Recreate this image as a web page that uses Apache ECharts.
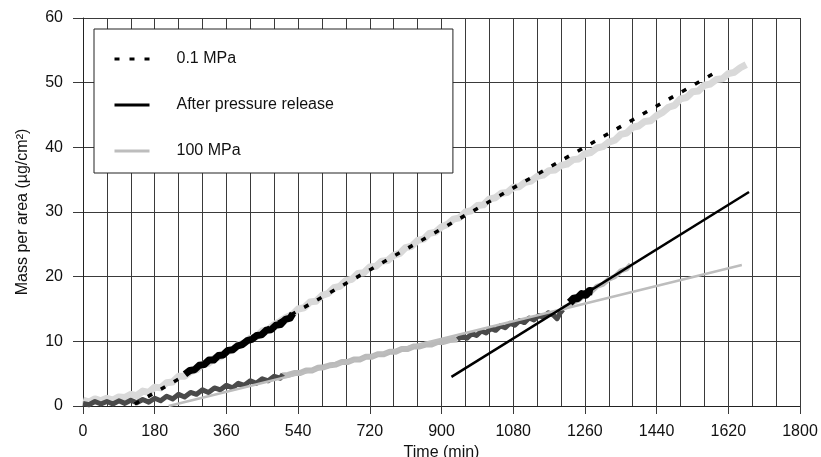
<!DOCTYPE html>
<html>
<head>
<meta charset="utf-8">
<script src="https://cdn.jsdelivr.net/npm/echarts@6/dist/echarts.min.js"></script>
<style>
  html, body { margin: 0; padding: 0; background: #fff; }
  #chart { width: 821px; height: 457px; }
</style>
</head>
<body>
<div id="chart"></div>
<script>
// tick labels
const timeTicks = [0, 180, 360, 540, 720, 900, 1080, 1260, 1440, 1620, 1800];
const massTicks = [0, 10, 20, 30, 40, 50, 60];

// 0.1 MPa measured trace (light grey band)
const trace01 = [
  [0, 0.9], [15, 0.6], [30, 1.1], [45, 0.8], [60, 1.2], [75, 0.9], [90, 1.4], [105, 1.3],
  [120, 1.8], [135, 1.6], [150, 2.3], [165, 2.1], [180, 2.9], [195, 2.8], [210, 3.6], [225, 3.7],
  [240, 4.6], [255, 4.6], [270, 5.3], [285, 5.6], [300, 6.4], [315, 6.6], [330, 7.4], [345, 7.6],
  [360, 8.4], [375, 8.6], [390, 9.5], [405, 9.7], [420, 10.5], [435, 10.7], [450, 11.6], [465, 11.8],
  [480, 12.6], [495, 13.1], [510, 13.7], [525, 14.1], [540, 15.0], [555, 15.2], [570, 16.1], [585, 16.2],
  [600, 17.1], [615, 17.4], [630, 18.3], [645, 18.5], [660, 19.4], [675, 19.6], [690, 20.5], [705, 20.6],
  [720, 21.5], [735, 21.6], [750, 22.4], [765, 22.5], [780, 23.3], [795, 23.6], [810, 24.5], [825, 24.7],
  [840, 25.6], [855, 25.8], [870, 26.7], [885, 26.9], [900, 27.7], [915, 28.1], [930, 28.9], [945, 29.1],
  [960, 30.0], [975, 30.2], [990, 31.0], [1005, 31.1], [1020, 32.0], [1035, 32.2], [1050, 32.9], [1065, 33.0],
  [1080, 33.8], [1095, 33.9], [1110, 34.6], [1125, 34.8], [1140, 35.5], [1155, 35.7], [1170, 36.4], [1185, 36.5],
  [1200, 37.2], [1215, 37.4], [1230, 38.1], [1245, 38.2], [1260, 39.0], [1275, 39.2], [1290, 39.9], [1305, 40.1],
  [1320, 40.8], [1335, 41.1], [1350, 42.0], [1365, 42.2], [1380, 43.1], [1395, 43.3], [1410, 44.0], [1425, 44.1],
  [1440, 44.9], [1455, 45.4], [1470, 46.2], [1485, 46.5], [1500, 47.5], [1515, 47.7], [1530, 48.6], [1545, 48.7],
  [1560, 49.6], [1575, 49.8], [1590, 50.5], [1605, 50.6], [1620, 51.4], [1635, 51.6], [1650, 52.3], [1665, 52.8]
];
// 0.1 MPa early trace (black)
const trace01Early = [
  [256, 4.9], [268, 5.5], [280, 5.6], [292, 6.3], [304, 6.4], [316, 7.1], [328, 7.1], [340, 7.8],
  [352, 7.9], [364, 8.6], [376, 8.7], [388, 9.3], [400, 9.5], [412, 10.1], [424, 10.3], [436, 10.9],
  [448, 11.0], [460, 11.7], [472, 11.8], [484, 12.5], [496, 12.6], [508, 13.4], [520, 13.6], [527, 14.3]
];
// 100 MPa traces
const trace100A = [
  [0, 0.4], [15, 0.2], [30, 0.7], [45, 0.3], [60, 0.7], [75, 0.3], [90, 0.8], [105, 0.4],
  [120, 0.9], [135, 0.5], [150, 1.0], [165, 0.6], [180, 1.2], [195, 0.8], [210, 1.5], [225, 1.1],
  [240, 1.8], [255, 1.4], [270, 2.1], [285, 1.8], [300, 2.5], [315, 2.1], [330, 2.8], [345, 2.5],
  [360, 3.2], [375, 2.8], [390, 3.5], [405, 3.2], [420, 3.9], [435, 3.5], [450, 4.2], [465, 3.9],
  [480, 4.6], [495, 4.3], [502, 4.9]
];
const trace100B = [
  [500, 4.7], [515, 4.8], [530, 5.1], [545, 5.1], [560, 5.5], [575, 5.5], [590, 5.9], [605, 6.0],
  [620, 6.3], [635, 6.4], [650, 6.8], [665, 6.8], [680, 7.2], [695, 7.2], [710, 7.6], [725, 7.6],
  [740, 8.0], [755, 8.0], [770, 8.4], [785, 8.4], [800, 8.8], [815, 8.8], [830, 9.2], [845, 9.2],
  [860, 9.5], [875, 9.5], [890, 9.9], [905, 9.9], [920, 10.2], [940, 10.3]
];
const trace100C = [
  [940, 10.3], [952, 10.8], [964, 10.5], [976, 11.2], [988, 10.9], [1000, 11.6], [1012, 11.3], [1024, 12.0],
  [1036, 11.7], [1048, 12.4], [1060, 12.1], [1072, 12.8], [1084, 12.5], [1096, 13.2], [1108, 12.9], [1120, 13.6],
  [1132, 13.3], [1144, 14.0], [1156, 13.7], [1168, 14.4], [1180, 14.1], [1190, 13.5], [1198, 14.4], [1205, 14.9]
];
const trace100D = [
  [1200, 15.0], [1215, 15.4], [1230, 16.0], [1245, 16.4], [1260, 17.2], [1275, 17.6], [1290, 18.5],
  [1305, 18.8], [1320, 19.6], [1335, 20.0], [1350, 20.9], [1365, 21.2], [1375, 21.9]
];
const traceRelease = [
  [1222, 16.0], [1232, 16.6], [1242, 16.7], [1252, 17.3], [1262, 17.2], [1272, 17.8], [1280, 17.7]
];
// fitted lines
const fit01 = [[130, 0.3], [1600, 52.0]];
const fit100 = [[215, 0], [1654, 21.8]];
const fitRelease = [[925, 4.5], [1672, 33.1]];

const FONT = 'Liberation Sans, Arial, Helvetica, sans-serif';
const GRID = '#3a3a3a';

function trace(name, data, color, width) {
  return {
    name: name, type: 'line', data: data, symbol: 'none', silent: true,
    lineStyle: { color: color, width: width, join: 'round' }
  };
}

let chart = echarts.init(document.getElementById('chart'));
chart.setOption({
  animation: false,
  backgroundColor: '#fff',
  textStyle: { fontFamily: FONT },
  grid: { left: 83, right: 21, top: 18, bottom: 51, outerBoundsMode: 'none', containLabel: false },
  legend: {
    data: ['0.1 MPa', 'After pressure release', '100 MPa'],
    orient: 'vertical',
    left: 94, top: 29,
    padding: [22, 119, 14, 19],
    itemGap: 30,
    itemWidth: 35, itemHeight: 14,
    backgroundColor: '#fff',
    borderColor: '#222', borderWidth: 1,
    selectedMode: false,
    itemStyle: { opacity: 0 },
    lineStyle: { width: 3 },
    textStyle: { fontSize: 16, color: '#111', fontFamily: FONT, padding: [0, 0, 0, 22], lineHeight: 16 }
  },
  xAxis: {
    type: 'value', min: 0, max: 1800, interval: 180,
    name: 'Time (min)', nameLocation: 'middle', nameGap: 37,
    nameTextStyle: { fontSize: 16, color: '#111' },
    axisLine: { show: true, lineStyle: { color: '#222', width: 1 } },
    axisTick: { show: true, length: 8, lineStyle: { color: GRID } },
    axisLabel: { fontSize: 16, color: '#111', margin: 18,
      formatter: function (v) { return timeTicks.indexOf(v) >= 0 ? String(v) : ''; } },
    splitLine: { show: true, lineStyle: { color: GRID, width: 1 } },
    minorTick: { show: false, splitNumber: 3 },
    minorSplitLine: { show: true, lineStyle: { color: GRID, width: 1 } }
  },
  yAxis: {
    type: 'value', min: 0, max: 60, interval: 10,
    name: 'Mass per area (\u00b5g/cm\u00b2)', nameLocation: 'middle', nameGap: 52,
    nameTextStyle: { fontSize: 16, color: '#111' },
    axisLine: { show: true, lineStyle: { color: '#222', width: 1 } },
    axisTick: { show: true, length: 10, lineStyle: { color: GRID } },
    axisLabel: { fontSize: 16, color: '#111', margin: 20,
      formatter: function (v) { return massTicks.indexOf(v) >= 0 ? String(v) : ''; } },
    splitLine: { show: true, lineStyle: { color: GRID, width: 1 } }
  },
  series: [
    trace('trace01', trace01, '#d9d9d9', 7),
    trace('trace100B', trace100B, '#bababa', 6),
    trace('trace100D', trace100D, '#bababa', 5),
    trace('trace100A', trace100A, '#4a4a4a', 5),
    trace('trace100C', trace100C, '#4a4a4a', 5),
    {
      name: '100 MPa', type: 'line', data: fit100, symbol: 'none', silent: true,
      lineStyle: { color: '#bdbdbd', width: 2.5 }, itemStyle: { color: '#bdbdbd' }
    },
    trace('trace01Early', trace01Early, '#000', 7),
    trace('traceRelease', traceRelease, '#000', 8),
    {
      name: '0.1 MPa', type: 'line', data: fit01, symbol: 'none', silent: true,
      lineStyle: { color: '#000', width: 3.5, type: [5, 10] }, itemStyle: { color: '#000' }
    },
    {
      name: 'After pressure release', type: 'line', data: fitRelease, symbol: 'none', silent: true,
      lineStyle: { color: '#000', width: 2.5 }, itemStyle: { color: '#000' }
    }
  ]
});
</script>
</body>
</html>
